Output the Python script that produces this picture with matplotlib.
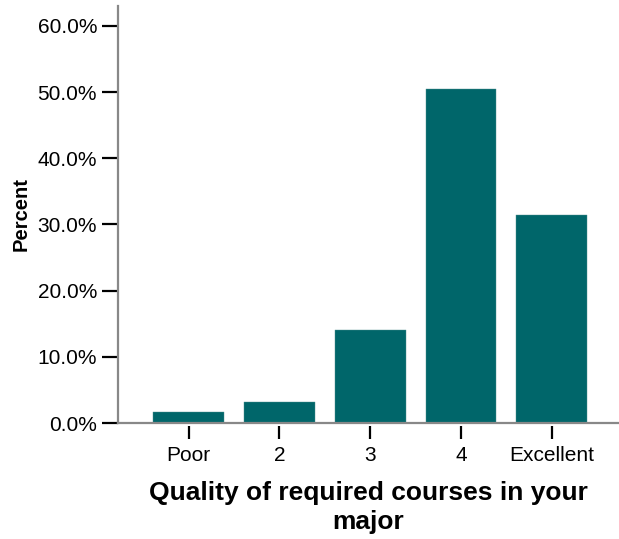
import numpy as np
import matplotlib.pyplot as plt
from matplotlib.ticker import PercentFormatter

plt.rcParams['font.family'] = ['Liberation Sans', 'DejaVu Sans']

categories = ['Poor', '2', '3', '4', 'Excellent']
percents = [1.7, 3.2, 14.0, 50.5, 31.4]
y_ticks = [0, 10, 20, 30, 40, 50, 60]

bar_color = '#00666a'
axis_gray = '#888888'

fig = plt.figure(figsize=(6.19, 5.39), dpi=100)
ax = fig.add_axes([0.1906, 0.2152, 0.8094, 0.7737])

x = np.arange(len(categories))
ax.bar(x, percents, width=0.78, color=bar_color, edgecolor='#4f9090', linewidth=0.3, zorder=2)

ax.set_xlim(-0.778, 4.74)
ax.set_ylim(0, 63)
ax.set_yticks(y_ticks)
ax.yaxis.set_major_formatter(PercentFormatter(decimals=1))
ax.set_xticks(x)
ax.set_xticklabels(categories)

for s in ['top', 'right']:
    ax.spines[s].set_visible(False)
ax.spines['left'].set_color(axis_gray)
ax.spines['left'].set_linewidth(1.6)
# ticks sit a little below the baseline, so move the hidden spine down
ax.spines['bottom'].set_position(('outward', 2))
ax.spines['bottom'].set_visible(False)
ax.axhline(0, color=axis_gray, linewidth=1.6, zorder=3, clip_on=False)

ax.tick_params(axis='y', length=11.5, width=1.6, color='black', pad=3.5, labelsize=15)
ax.tick_params(axis='x', length=9.5, width=1.6, color='black', pad=5, labelsize=15)

ax.set_ylabel('Percent', fontsize=14.5, fontweight='bold', labelpad=5)
ax.set_xlabel('Quality of required courses in your\nmajor', fontsize=19,
              fontweight='bold', labelpad=11.5, linespacing=1.28)

fig.savefig('out.png', dpi=100)
